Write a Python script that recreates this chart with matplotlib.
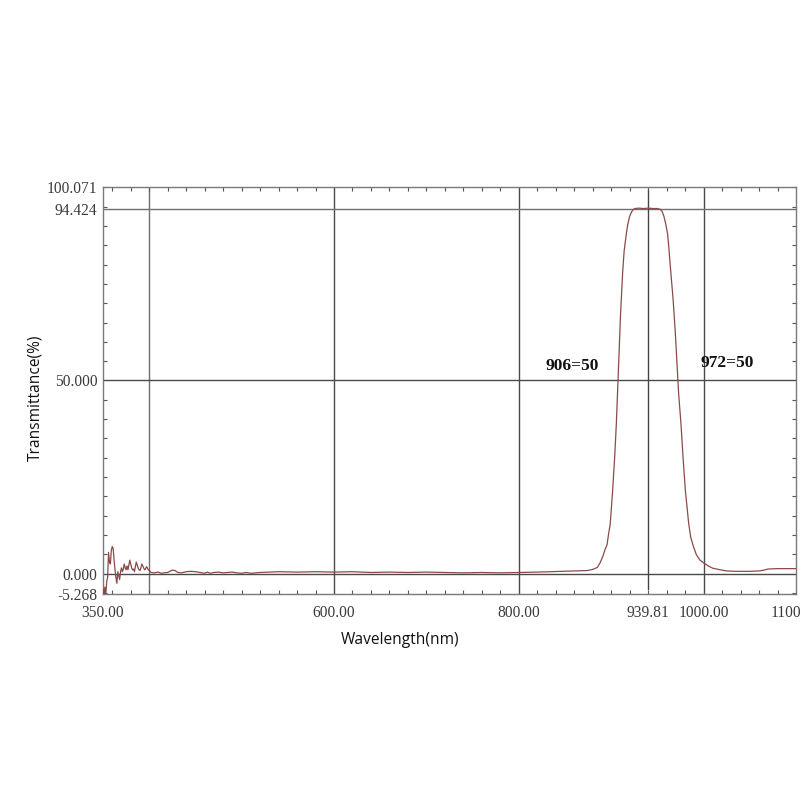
import matplotlib
matplotlib.use("Agg")
import matplotlib.pyplot as plt
from matplotlib.ticker import MultipleLocator, FixedLocator

# ---- data ----
wavelength = [
    350, 351, 352, 353, 354, 355, 356, 357, 358, 359, 360, 361, 362, 363, 364, 365,
    366, 367, 368, 369, 370, 371, 372, 373, 374, 375, 376, 377, 378, 379, 380, 381,
    382, 383, 384, 385, 386, 387, 388, 389, 390, 391, 392, 393, 394, 395, 396, 397,
    398, 399, 400, 402, 405, 410, 413, 416, 420, 425, 428, 431, 435, 440, 445, 450,
    455, 460, 463, 466, 470, 475, 480, 485, 490, 495, 500, 505, 510, 520, 530, 540,
    560, 580, 600, 620, 640, 660, 680, 700, 720, 740, 760, 780, 800, 820, 834, 850,
    865, 874, 880, 885, 888, 891, 893, 895.5, 897, 899, 901.6, 903.8, 905.6, 907,
    908.5, 910, 912.4, 914, 916.4, 918, 920, 922, 924, 926, 930, 935, 940, 945, 950,
    953, 955, 957, 959, 961, 962.5, 964, 967, 969.4, 971.2, 972, 973, 975.6, 977.7,
    980.2, 983.8, 986, 989, 992, 996, 1000, 1005, 1010, 1018, 1025, 1035, 1050, 1060,
    1065, 1070, 1080, 1090, 1100,
]
transmittance = [
    -4.0, -5.5, -3.5, -5.5, -2.0, -1.0, 5.5, 3.0, 2.5, 6.0, 7.0, 6.5, 3.5, 1.0, -1.0, -2.5,
    0.5, -0.5, -1.5, 0.5, 1.5, 0.5, 1.2, 2.5, 1.5, 1.0, 2.0, 1.0, 2.2, 3.5, 2.5, 1.5,
    1.0, 1.2, 0.5, 1.8, 3.0, 2.2, 1.5, 1.0, 0.8, 1.5, 2.5, 2.0, 1.5, 1.0, 1.2, 1.8,
    1.5, 1.0, 0.8, 0.3, 0.2, 0.4, 0.1, 0.2, 0.3, 0.9, 0.8, 0.3, 0.2, 0.5, 0.6, 0.5,
    0.3, 0.1, 0.4, 0.1, 0.3, 0.4, 0.2, 0.3, 0.4, 0.2, 0.1, 0.3, 0.1, 0.3, 0.4, 0.5,
    0.4, 0.5, 0.4, 0.5, 0.3, 0.4, 0.3, 0.4, 0.3, 0.2, 0.3, 0.2, 0.3, 0.4, 0.5, 0.6,
    0.7, 0.8, 1.1, 1.6, 2.8, 4.5, 6.0, 7.5, 10.0, 13.0, 21.7, 30.3, 39.0, 47.5,
    57.0, 66.5, 78.0, 83.5, 88.0, 90.5, 92.5, 93.6, 94.3, 94.5, 94.6, 94.5, 94.6, 94.5, 94.5,
    94.3, 93.8, 92.5, 90.5, 88.0, 84.0, 79.5, 71.0, 62.3, 54.5, 51.0, 46.5, 38.5, 30.3,
    21.7, 13.1, 9.5, 7.0, 5.0, 3.5, 2.8, 2.0, 1.4, 1.0, 0.7, 0.6, 0.6, 0.7,
    0.9, 1.2, 1.3, 1.3, 1.3,
]

x_ticks = [350, 600, 800, 939.81, 1000, 1100]
x_tick_labels = ["350.00", "600.00", "800.00", "939.81", "1000.00", "1100.00"]
y_ticks = [-5.268, 0.0, 50.0, 94.424, 100.071]
y_tick_labels = ["-5.268", "0.000", "50.000", "94.424", "100.071"]
v_grid = [400, 600, 800, 1000]
h_grid = [0.0, 50.0, 94.424]
marker_wl = 939.81
annotations = [("906=50", 858, 53.8), ("972=50", 1026, 54.6)]

# ---- figure ----
fig = plt.figure(figsize=(8, 8), dpi=100)
ax = fig.add_axes([103 / 800, 1 - 594 / 800, 693 / 800, 407 / 800])
ax.set_xlim(350, 1100)
ax.set_ylim(-5.268, 100.071)

for gx in v_grid:
    ax.axvline(gx, color="#4a4a4a" if gx != 400 else "#707070", lw=1.0, zorder=1)
for gy in h_grid:
    ax.axhline(gy, color="#4a4a4a" if gy != 94.424 else "#707070", lw=1.0, zorder=1)
ax.axvline(marker_wl, ymin=0.012, ymax=0.992, color="#444444", lw=1.0, zorder=1)

ax.plot(wavelength, transmittance, color="#8a4a4a", lw=0.9, zorder=3)

for spine in ax.spines.values():
    spine.set_color("#7a7a7a")
    spine.set_linewidth(1.0)

tick_font = dict(family=["Liberation Serif", "DejaVu Serif"], size=11.2)
ax.xaxis.set_major_locator(FixedLocator(x_ticks))
ax.yaxis.set_major_locator(FixedLocator(y_ticks))
ax.set_xticklabels(x_tick_labels, fontdict=tick_font, color="#3a3a3a")
ax.set_yticklabels(y_tick_labels, fontdict=tick_font, color="#3a3a3a")
ax.xaxis.set_minor_locator(MultipleLocator(20))
ax.yaxis.set_minor_locator(MultipleLocator(5))
ax.tick_params(axis="y", which="major", length=0, pad=4)
ax.tick_params(axis="x", which="major", length=0, pad=8)
ax.tick_params(which="minor", direction="in", length=3, width=0.8, color="#555555",
               top=True, right=True, bottom=True, left=True)

label_font = dict(family=["Open Sans", "DejaVu Sans"], size=11.2, color="#111111")
ax.text((400 - 103) / 693, -46 / 407, "Wavelength(nm)", transform=ax.transAxes,
        ha="center", va="center", **label_font)
ax.text((35 - 103) / 693, (594 - 398) / 407, "Transmittance(%)", transform=ax.transAxes,
        ha="center", va="center", rotation=90, **label_font)

for txt, xx, yy in annotations:
    ax.text(xx, yy, txt, ha="center", va="center", fontsize=12.5, fontweight="bold",
            family=["Liberation Serif", "DejaVu Serif"], color="#111111", zorder=4)

fig.savefig("out.png", dpi=100)
